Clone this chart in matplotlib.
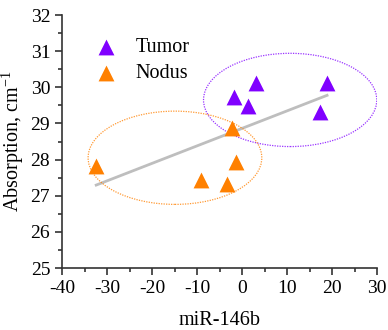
import numpy as np
import matplotlib.pyplot as plt
from matplotlib.patches import Ellipse
from matplotlib.ticker import AutoMinorLocator

plt.rcParams['font.family'] = ['Liberation Serif', 'DejaVu Serif']
plt.rcParams['axes.unicode_minus'] = False

tumor_x = [-1.8, 3.0, 1.4, 18.9, 17.4]
tumor_y = [29.73, 30.13, 29.48, 30.13, 29.33]
nodus_x = [-32.4, -2.2, -1.3, -9.1, -3.3]
nodus_y = [27.82, 28.87, 27.93, 27.43, 27.32]

purple = '#8000ff'
orange = '#ff8000'

fig = plt.figure(figsize=(3.88, 3.3), dpi=100)
ax = fig.add_axes([62 / 388, 1 - 268 / 330, 315 / 388, 253 / 330])

# linear fit over all points
allx = np.array(tumor_x + nodus_x)
ally = np.array(tumor_y + nodus_y)
k, b = np.polyfit(allx, ally, 1)
fx = np.array([allx.min(), allx.max()])
ax.plot(fx, k * fx + b, color='#bebebe', lw=2, zorder=1)

# group ellipses
ax.add_patch(Ellipse((10.7, 29.65), 38.5, 2.58, fill=False, ec=purple,
                     ls=(0, (1, 1)), lw=0.9, alpha=0.8))
ax.add_patch(Ellipse((-14.9, 28.05), 38.6, 2.58, fill=False, ec=orange,
                     ls=(0, (1, 1)), lw=0.9, alpha=0.8))

ax.scatter(tumor_x, tumor_y, marker='^', s=130, color=purple, lw=0, label='Tumor', zorder=3)
ax.scatter(nodus_x, nodus_y, marker='^', s=130, color=orange, lw=0, label='Nodus', zorder=3)

ax.set_xlim(-40, 30)
ax.set_ylim(25, 32)
ax.set_xticks(np.arange(-40, 31, 10))
ax.set_yticks(np.arange(25, 33, 1))
ax.xaxis.set_minor_locator(AutoMinorLocator(2))
ax.yaxis.set_minor_locator(AutoMinorLocator(2))
ax.spines['top'].set_visible(False)
ax.spines['right'].set_visible(False)
for s in ['left', 'bottom']:
    ax.spines[s].set_linewidth(1.2)
    ax.spines[s].set_color('#333333')
ax.tick_params(which='major', length=5, width=1.2, labelsize=14, color='#333333')
ax.tick_params(which='minor', length=3, width=1.2, color='#333333')

ax.set_xlabel('miR-146b', fontsize=14.5, labelpad=10)
ax.set_ylabel('Absorption, cm$^{\\mathregular{-1}}$', fontsize=14.5, labelpad=3)

ax.legend(loc='upper left', bbox_to_anchor=(0.03, 0.965), frameon=False,
          fontsize=14.5, handletextpad=0.5, labelspacing=0.35, borderpad=0.2,
          markerscale=1.0)

fig.savefig('out.png', dpi=100)
